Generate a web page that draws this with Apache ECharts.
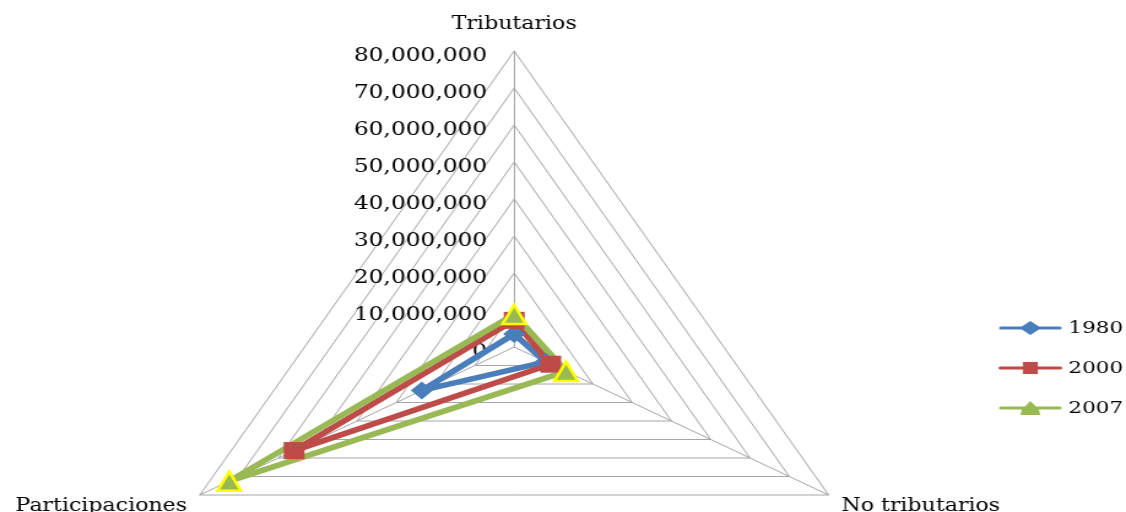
<!DOCTYPE html>
<html>
<head>
<meta charset="utf-8">
<title>Ingresos</title>
<script src="https://cdn.jsdelivr.net/npm/echarts@6/dist/echarts.min.js"></script>
<style>
  html, body { margin: 0; padding: 0; background: #ffffff; overflow: hidden; }
  #wrap { position: relative; width: 1126px; height: 512px; overflow: hidden; }
  /* the chart is drawn on a narrower canvas and widened horizontally */
  #chart { position: absolute; left: 0; top: 0; width: 918px; height: 512px;
           transform: scaleX(1.2266); transform-origin: 0 0; }
</style>
</head>
<body>
<div id="wrap"><div id="chart"></div></div>
<script>
// Indicators, listed counter-clockwise from the top (ECharts radar order)
const categories = ['Tributarios', 'Participaciones', 'No tributarios'];

// Revenue per year, in the same order as the indicators
const years = ['1980', '2000', '2007'];
const values1980 = [3500000, 23500000, 8000000];
const values2000 = [7200000, 56000000, 9300000];
const values2007 = [8800000, 72500000, 13200000];

// Scale of the radial axis
const axisMin = 0;
const axisMax = 80000000;
const axisStep = 10000000;

const fmt = v => String(Math.round(v)).replace(/\B(?=(\d{3})+(?!\d))/g, ',');

const gridColor = '#A6A6A6';
const font = 'DejaVu Serif';
const cx = 419.2, cy = 347, R = 296;

const colors = { '1980': '#4A7EBB', '2000': '#BE4B48', '2007': '#98B954' };

// legend keys: a line with the series marker in the middle (52 x 14 box)
const legendIcons = {
  '1980': 'path://M2,5.5H19L26,0L33,5.5H50A1.5,1.5,0,0,1,50,8.5H33L26,14L19,8.5H2A1.5,1.5,0,0,1,2,5.5Z',
  '2000': 'path://M2,5.5H20V1H32V5.5H50A1.5,1.5,0,0,1,50,8.5H32V13H20V8.5H2A1.5,1.5,0,0,1,2,5.5Z',
  '2007': 'path://M2,5.5H21.5L26,0L30.5,5.5H50A1.5,1.5,0,0,1,50,8.5H33L34,14H18L19,8.5H2A1.5,1.5,0,0,1,2,5.5Z'
};

const chart = echarts.init(document.getElementById('chart'), null, { renderer: 'canvas' });

chart.setOption({
  animation: false,
  backgroundColor: '#ffffff',
  legend: {
    orient: 'vertical',
    left: 809,
    top: 313,
    itemWidth: 52,
    itemHeight: 14,
    itemGap: 20,
    textStyle: { fontFamily: font, fontSize: 17.5, color: '#000', lineHeight: 20 },
    data: years.map(y => ({
      name: y,
      icon: legendIcons[y],
      itemStyle: { color: colors[y], borderWidth: 0 }
    }))
  },
  radar: {
    center: [cx, cy],
    radius: R,
    shape: 'polygon',
    startAngle: 90,
    splitNumber: (axisMax - axisMin) / axisStep,
    indicator: categories.map(name => ({ name, min: axisMin, max: axisMax })),
    axisName: {
      color: '#000', fontFamily: font, fontSize: 18, lineHeight: 29,
      // the lower names sit a little below their corners
      formatter: name => name === categories[0] ? name : '{gap|}\n' + name,
      rich: { gap: { height: 10, lineHeight: 10 } }
    },
    nameGap: 12,
    axisLine: { lineStyle: { color: gridColor, width: 1 } },
    splitLine: { lineStyle: { color: gridColor, width: 1 } },
    splitArea: { show: false },
    axisTick: { show: false },
    axisLabel: { show: false }
  },
  // invisible value axis along the upper spoke that carries the tick labels
  grid: { left: cx, top: cy - R + 5, width: 1, height: R, containLabel: false },
  xAxis: { type: 'value', show: false, min: 0, max: 1 },
  yAxis: {
    type: 'value',
    min: axisMin,
    max: axisMax,
    interval: axisStep,
    axisLine: { show: false },
    axisTick: { show: false },
    splitLine: { show: false },
    axisLabel: { margin: 22, color: '#000', fontFamily: font, fontSize: 19, formatter: fmt }
  },
  series: [
    {
      type: 'radar',
      name: '1980',
      symbol: 'diamond',
      symbolSize: 18,
      lineStyle: { color: colors['1980'], width: 5.5 },
      itemStyle: { color: colors['1980'] },
      data: [{ name: '1980', value: values1980 }]
    },
    {
      type: 'radar',
      name: '2000',
      symbol: 'rect',
      symbolSize: 17,
      lineStyle: { color: colors['2000'], width: 5.5 },
      itemStyle: { color: colors['2000'] },
      data: [{ name: '2000', value: values2000 }]
    },
    {
      type: 'radar',
      name: '2007',
      symbol: 'triangle',
      symbolSize: 19,
      lineStyle: { color: colors['2007'], width: 5.5 },
      itemStyle: { color: colors['2007'], borderColor: '#FFFF00', borderWidth: 2.5 },
      data: [{ name: '2007', value: values2007 }]
    }
  ]
});
</script>
</body>
</html>
